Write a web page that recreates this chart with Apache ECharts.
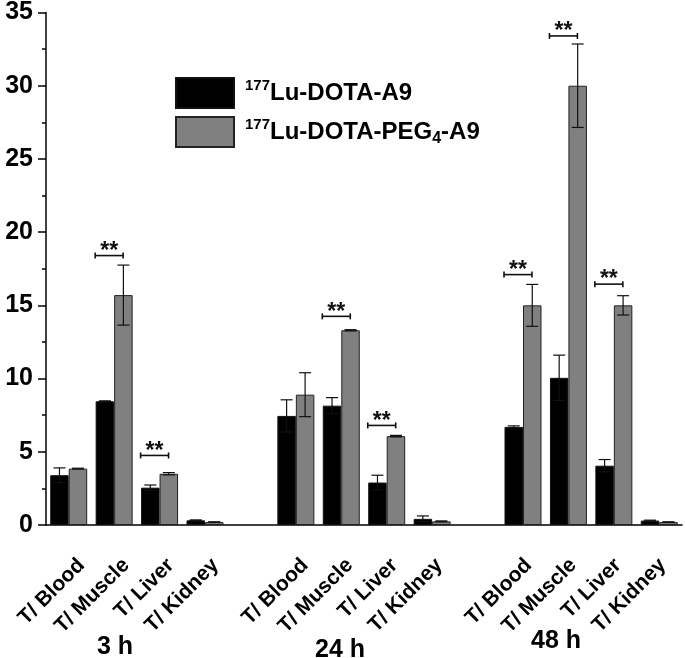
<!DOCTYPE html>
<html><head><meta charset="utf-8">
<script src="https://cdn.jsdelivr.net/npm/echarts@6/dist/echarts.min.js"></script>
<style>html,body{margin:0;padding:0;background:#fff}#c{width:685px;height:658px}</style>
</head><body><div id="c"></div>
<script>
// ---- data ----
const categories = ['T/ Blood','T/ Muscle','T/ Liver','T/ Kidney','',
                    'T/ Blood','T/ Muscle','T/ Liver','T/ Kidney','',
                    'T/ Blood','T/ Muscle','T/ Liver','T/ Kidney'];
const groupLabels = ['3 h','24 h','48 h'];
const seriesNames = ['177Lu-DOTA-A9','177Lu-DOTA-PEG4-A9'];
const blackMean = [3.4, 8.45, 2.55, 0.32, null, 7.45, 8.15, 2.9, 0.42, null, 6.7, 10.05, 4.05, 0.3];
const blackErr  = [0.5, 0.03, 0.18, 0.03, null, 1.1, 0.55, 0.5, 0.2, null, 0.07, 1.55, 0.42, 0.03];
const grayMean  = [3.85, 15.7, 3.5, 0.2, null, 8.9, 13.3, 6.07, 0.25, null, 15.0, 30.0, 15.0, 0.2];
const grayErr   = [0.03, 2.05, 0.08, 0.02, null, 1.5, 0.04, 0.05, 0.03, null, 1.43, 2.85, 0.66, 0.02];
// significance brackets: [category index, height]
const sigBrackets = [[1,18.4],[2,4.75],[6,14.25],[7,6.8],[10,17.1],[11,33.4],[12,16.45]];
const sigLabel = '**';
const yMin = 0, yMax = 35, yStep = 5;

// ---- chart ----
const FONT = '"Liberation Sans", Arial, sans-serif';
const BAR_FRAC = 0.407;
const chart = echarts.init(document.getElementById('c'), null, {renderer:'canvas'});

function errData(means, errs){
  const out = [];
  means.forEach((m,i)=>{ if (m !== null) out.push([i, m, errs[i]]); });
  return out;
}
function errRender(side){
  return function(params, api){
    const idx = api.value(0), m = api.value(1), e = api.value(2);
    const band = api.size([1,0])[0];
    const bw = band*BAR_FRAC;
    const x = api.coord([idx, m])[0] + side*bw/2;
    const yt = api.coord([idx, m+e])[1];
    const yb = api.coord([idx, Math.max(0, m-e)])[1];
    const cap = 6;
    const st = {stroke:'#111', lineWidth:1.2};
    return {type:'group', children:[
      {type:'line', shape:{x1:x,y1:yt,x2:x,y2:yb}, style:st},
      {type:'line', shape:{x1:x-cap,y1:yt,x2:x+cap,y2:yt}, style:st},
      {type:'line', shape:{x1:x-cap,y1:yb,x2:x+cap,y2:yb}, style:st}
    ]};
  };
}
function sigRender(params, api){
  const idx = api.value(0), h = api.value(1);
  const band = api.size([1,0])[0];
  const p = api.coord([idx, h]);
  const x1 = p[0] - 0.418*band, x2 = p[0] + 0.198*band, y = p[1];
  const st = {stroke:'#111', lineWidth:1.6};
  return {type:'group', children:[
    {type:'line', shape:{x1:x1,y1:y,x2:x2,y2:y}, style:st},
    {type:'line', shape:{x1:x1,y1:y-3,x2:x1,y2:y+3}, style:st},
    {type:'line', shape:{x1:x2,y1:y-3,x2:x2,y2:y+3}, style:st},
    {type:'text', style:{text:sigLabel, x:(x1+x2)/2, y:y-4, align:'center', verticalAlign:'middle',
      font:'bold 23px ' + FONT, fill:'#111'}}
  ]};
}

const legendRich = {
  '177Lu-DOTA-A9': '{sup|177}{b|Lu-DOTA-A9}',
  '177Lu-DOTA-PEG4-A9': '{sup|177}{b|Lu-DOTA-PEG}{sub|4}{b|-A9}'
};

const option = {
  animation:false,
  backgroundColor:'#fff',
  textStyle:{fontFamily:FONT},
  grid:[
    {left:46, right:3, top:12, bottom:133, containLabel:false},
    // label-only grid, shifted right so rotated labels sit like the reference
    {left:59, right:-10, top:12, bottom:133, containLabel:false}
  ],
  legend:{
    orient:'vertical', left:175, top:77, padding:0, itemWidth:58, itemHeight:30, itemGap:7,
    icon:'rect', data:seriesNames,
    formatter: n => legendRich[n],
    textStyle:{
      padding:[0,0,0,6],
      rich:{
        b:{fontSize:24, fontWeight:'bold', fontFamily:FONT, color:'#000', lineHeight:30, verticalAlign:'middle'},
        sup:{fontSize:15, fontWeight:'bold', fontFamily:FONT, color:'#000', verticalAlign:'top', lineHeight:30},
        sub:{fontSize:16, fontWeight:'bold', fontFamily:FONT, color:'#000', verticalAlign:'bottom', lineHeight:30}
      }
    }
  },
  xAxis:[{
    type:'category', data:categories, position:'bottom', gridIndex:0,
    axisLine:{lineStyle:{color:'#000', width:1.5}},
    axisTick:{alignWithLabel:true, length:8, lineStyle:{color:'#000', width:1.5}},
    axisLabel:{show:false},
    splitLine:{show:false}
  },{
    type:'category', data:categories, position:'bottom', gridIndex:0,
    axisLine:{show:false},
    axisTick:{alignWithLabel:false, length:4, lineStyle:{color:'#000', width:1.5}},
    axisLabel:{show:false}, splitLine:{show:false}
  },{
    type:'category', data:categories, position:'bottom', gridIndex:1,
    axisLine:{show:false}, axisTick:{show:false}, splitLine:{show:false},
    axisLabel:{interval:0, rotate:45, fontSize:21, fontWeight:'bold', color:'#000', fontFamily:FONT, margin:37}
  }],
  yAxis:[{
    type:'value', min:yMin, max:yMax, interval:yStep, gridIndex:0,
    axisLine:{show:true, lineStyle:{color:'#000', width:1.5}},
    axisTick:{show:true, length:8, lineStyle:{color:'#000', width:1.5}},
    minorTick:{show:true, splitNumber:2, length:4, lineStyle:{color:'#000', width:1.5}},
    axisLabel:{fontSize:25, fontWeight:'bold', color:'#000', fontFamily:FONT, margin:13},
    splitLine:{show:false}
  },{
    type:'value', min:yMin, max:yMax, interval:yStep, gridIndex:1, show:false
  }],
  series:[
    {name:seriesNames[0], type:'bar', data:blackMean, barWidth:(BAR_FRAC*100)+'%', barGap:'0%',
      itemStyle:{color:'#000', borderColor:'#111', borderWidth:1}},
    {name:seriesNames[1], type:'bar', data:grayMean, barWidth:(BAR_FRAC*100)+'%', barGap:'0%',
      itemStyle:{color:'#808080', borderColor:'#222', borderWidth:1}},
    {type:'custom', data:errData(blackMean, blackErr), renderItem:errRender(-1), z:5, encode:{x:0,y:1}},
    {type:'custom', data:errData(grayMean, grayErr), renderItem:errRender(1), z:5, encode:{x:0,y:1}},
    {type:'custom', data:sigBrackets, renderItem:sigRender, z:5, encode:{x:0,y:1}}
  ],
  graphic:[
    {type:'text', x:115, y:647, style:{text:groupLabels[0], align:'center', verticalAlign:'middle', font:'bold 25px '+FONT, fill:'#000'}},
    {type:'text', x:340, y:650, style:{text:groupLabels[1], align:'center', verticalAlign:'middle', font:'bold 25px '+FONT, fill:'#000'}},
    {type:'text', x:556, y:641, style:{text:groupLabels[2], align:'center', verticalAlign:'middle', font:'bold 25px '+FONT, fill:'#000'}}
  ]
};
chart.setOption(option);
</script></body></html>
